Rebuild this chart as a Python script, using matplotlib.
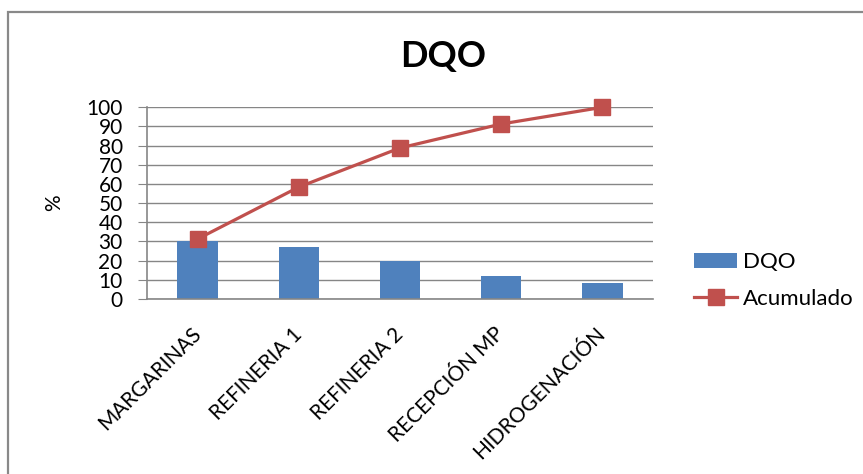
import matplotlib
matplotlib.use('Agg')
import matplotlib.pyplot as plt
from matplotlib.patches import Rectangle

# Pareto data for DQO by area
areas = ['MARGARINAS', 'REFINERIA 1', 'REFINERIA 2', 'RECEPCIÓN MP', 'HIDROGENACIÓN']
dqo = [30.4, 27.1, 20.0, 12.2, 8.2]
acumulado = [31.3, 58.4, 78.8, 91.3, 100.0]
y_ticks = list(range(0, 101, 10))

plt.rcParams['font.family'] = ['Lato', 'DejaVu Sans']

fig = plt.figure(figsize=(8.63, 4.74), dpi=100)
ax = fig.add_axes([0.1703, 0.3692, 0.5864, 0.4044])

x = list(range(len(areas)))
bars = ax.bar(x, dqo, width=0.4, color='#4F81BD', label='DQO', zorder=2)
line, = ax.plot(x, acumulado, color='#C0504D', lw=2.3, marker='s',
                markersize=12, label='Acumulado', zorder=3, clip_on=False)

ax.set_xlim(-0.5, len(areas) - 0.5)
ax.set_ylim(0, 100)
ax.set_yticks(y_ticks)
ax.tick_params(axis='y', labelsize=15, length=6.5, color='#868686', pad=11)
ax.tick_params(axis='x', length=0, pad=23)
ax.set_xticks(x)
ax.set_xticklabels(areas, rotation=45, ha='right', va='center',
                   rotation_mode='anchor', fontsize=15)
ax.yaxis.grid(True, color='#868686', lw=1, zorder=0)
ax.set_axisbelow(True)
for s in ['top', 'right']:
    ax.spines[s].set_visible(False)
for s in ['left', 'bottom']:
    ax.spines[s].set_color('#868686')
    ax.spines[s].set_linewidth(1.2)

ax.set_ylabel('%', fontsize=15, labelpad=16)

fig.text(0.514, 0.88, 'DQO', ha='center', va='center', fontsize=26,
         fontweight='bold')

ax.legend([bars, line], ['DQO', 'Acumulado'], loc='center left',
          bbox_to_anchor=(0.7815, 0.408), bbox_transform=fig.transFigure,
          frameon=False, fontsize=16, handlelength=1.9, handletextpad=0.27,
          labelspacing=0.75)

# chart border
fig.add_artist(Rectangle((8 / 863, -0.2), 1.2, 0.2 + 1 - 12 / 474,
                         transform=fig.transFigure, fill=False,
                         edgecolor='#898989', lw=1.6))

fig.savefig('out.png', dpi=100)
